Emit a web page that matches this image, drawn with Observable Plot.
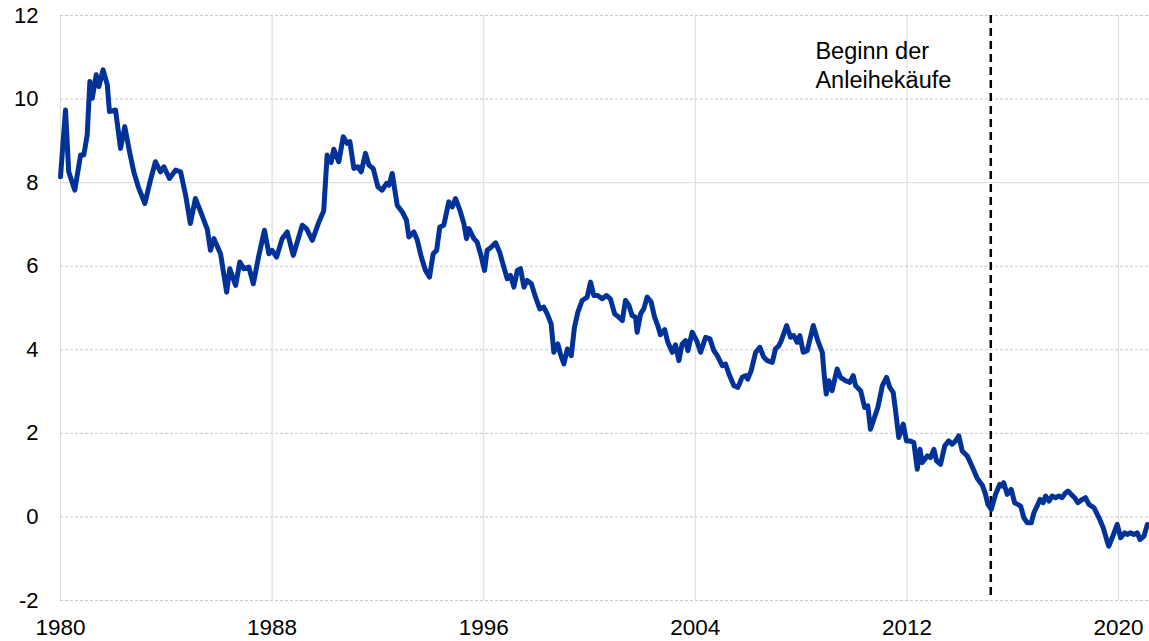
<!DOCTYPE html>
<html>
<head>
<meta charset="utf-8">
<script src="https://cdn.jsdelivr.net/npm/d3@7"></script>
<script src="https://cdn.jsdelivr.net/npm/@observablehq/plot@0.6"></script>
<style>
  html, body { margin: 0; padding: 0; background: #fff; }
  #chart { width: 1149px; height: 641px; }
</style>
</head>
<body>
<div id="chart"></div>
<script>
// Decimal years (x) and 10-year yields in % (y)
const years = [
  1980.00,1980.19,1980.31,1980.54,1980.76,1980.88,1981.01,1981.11,1981.20,1981.35,1981.45,1981.61,1981.77,1981.85,
  1982.08,1982.27,1982.43,1982.61,1982.77,1982.94,1983.19,1983.40,1983.59,1983.78,1983.91,1984.12,1984.35,1984.54,
  1984.73,1984.91,1985.10,1985.30,1985.55,1985.67,1985.80,1986.05,1986.28,1986.40,1986.62,1986.78,1986.93,1987.12,
  1987.29,1987.50,1987.71,1987.88,1988.00,1988.17,1988.38,1988.57,1988.80,1989.14,1989.30,1989.52,1989.77,1989.95,
  1990.08,1990.23,1990.33,1990.52,1990.69,1990.84,1990.94,1991.09,1991.24,1991.37,1991.53,1991.66,1991.82,1992.00,
  1992.16,1992.33,1992.42,1992.54,1992.73,1992.92,1993.08,1993.17,1993.36,1993.49,1993.64,1993.80,1993.95,1994.09,
  1994.22,1994.34,1994.49,1994.68,1994.81,1994.93,1995.10,1995.25,1995.35,1995.44,1995.63,1995.75,1995.88,1996.03,
  1996.13,1996.26,1996.45,1996.61,1996.74,1996.89,1997.01,1997.14,1997.27,1997.39,1997.52,1997.64,1997.80,1997.96,
  1998.12,1998.27,1998.40,1998.55,1998.65,1998.80,1998.90,1999.03,1999.16,1999.31,1999.43,1999.56,1999.72,1999.91,
  2000.04,2000.16,2000.31,2000.48,2000.64,2000.79,2000.95,2001.11,2001.24,2001.36,2001.49,2001.61,2001.74,2001.80,
  2001.93,2002.05,2002.18,2002.33,2002.46,2002.58,2002.68,2002.84,2002.96,2003.13,2003.25,2003.38,2003.50,2003.63,
  2003.72,2003.88,2004.05,2004.20,2004.39,2004.55,2004.70,2004.83,2005.02,2005.14,2005.27,2005.46,2005.61,2005.77,
  2005.90,2005.98,2006.11,2006.28,2006.44,2006.59,2006.72,2006.91,2007.03,2007.16,2007.25,2007.45,2007.60,2007.72,
  2007.85,2007.95,2008.08,2008.23,2008.46,2008.63,2008.80,2008.88,2008.95,2009.05,2009.17,2009.36,2009.49,2009.68,
  2009.84,2009.97,2010.06,2010.25,2010.40,2010.52,2010.62,2010.75,2010.90,2011.07,2011.23,2011.35,2011.48,2011.57,
  2011.69,2011.86,2011.98,2012.11,2012.26,2012.39,2012.49,2012.58,2012.77,2012.89,2013.02,2013.12,2013.27,2013.43,
  2013.58,2013.71,2013.84,2013.96,2014.09,2014.28,2014.47,2014.66,2014.85,2014.97,2015.06,2015.19,2015.35,2015.51,
  2015.60,2015.66,2015.79,2015.94,2016.07,2016.19,2016.30,2016.42,2016.55,2016.70,2016.80,2016.95,2017.03,2017.15,
  2017.24,2017.37,2017.49,2017.62,2017.74,2017.87,2018.00,2018.09,2018.21,2018.34,2018.46,2018.63,2018.75,2018.88,
  2019.07,2019.26,2019.42,2019.57,2019.63,2019.76,2019.95,2020.08,2020.23,2020.33,2020.45,2020.58,2020.71,2020.81,
  2020.96,2021.09,2021.16
];
const yields = [
  8.14,9.74,8.26,7.82,8.66,8.66,9.14,10.42,10.02,10.58,10.30,10.70,10.34,9.70,
  9.74,8.82,9.34,8.74,8.26,7.90,7.50,8.06,8.50,8.26,8.38,8.10,8.30,8.26,
  7.70,7.02,7.62,7.30,6.88,6.38,6.66,6.30,5.38,5.94,5.54,6.10,5.94,5.98,
  5.58,6.26,6.86,6.30,6.38,6.22,6.66,6.82,6.26,6.98,6.90,6.62,7.06,7.32,
  8.66,8.48,8.80,8.50,9.10,8.94,8.98,8.34,8.38,8.26,8.70,8.42,8.34,7.90,
  7.82,7.98,7.94,8.22,7.46,7.30,7.10,6.70,6.82,6.62,6.22,5.90,5.74,6.30,
  6.38,6.94,6.98,7.54,7.42,7.62,7.34,7.02,6.66,6.90,6.66,6.58,6.30,5.90,
  6.38,6.44,6.56,6.32,6.02,5.70,5.78,5.50,5.90,5.94,5.50,5.66,5.58,5.26,
  4.98,5.02,4.86,4.62,3.94,4.14,3.90,3.66,4.02,3.86,4.54,4.90,5.18,5.26,
  5.62,5.30,5.30,5.22,5.30,5.22,4.86,4.78,4.70,5.18,5.06,4.82,4.78,4.42,
  4.86,4.98,5.26,5.14,4.78,4.58,4.36,4.48,4.18,3.94,4.12,3.74,4.14,4.22,
  3.98,4.42,4.22,3.94,4.30,4.26,3.98,3.86,3.62,3.66,3.42,3.14,3.10,3.34,
  3.38,3.30,3.50,3.94,4.06,3.82,3.74,3.70,4.02,4.10,4.22,4.58,4.30,4.34,
  4.18,4.34,3.94,3.98,4.58,4.22,3.94,3.34,2.94,3.26,3.02,3.54,3.34,3.26,
  3.22,3.38,3.14,3.02,2.62,2.66,2.10,2.34,2.62,3.14,3.34,3.10,2.98,2.54,
  1.90,2.22,1.82,1.82,1.78,1.14,1.62,1.30,1.46,1.42,1.62,1.34,1.26,1.70,
  1.82,1.74,1.82,1.94,1.58,1.46,1.20,0.92,0.76,0.54,0.30,0.18,0.54,0.78,
  0.74,0.82,0.54,0.66,0.34,0.30,0.26,-0.02,-0.14,-0.14,0.10,0.30,0.42,0.34,
  0.50,0.38,0.50,0.46,0.50,0.46,0.58,0.62,0.54,0.46,0.34,0.42,0.46,0.30,
  0.22,-0.02,-0.26,-0.58,-0.70,-0.50,-0.18,-0.50,-0.38,-0.42,-0.38,-0.42,-0.38,-0.54,
  -0.46,-0.18,-0.20
];
const xTicks = [1980, 1988, 1996, 2004, 2012, 2020];
const yTicks = [-2, 0, 2, 4, 6, 8, 10, 12];
const xDomain = [1980, 2021.17];
const yDomain = [-2, 12];
const purchaseStart = [2015.17];
const noteText = ["Beginn der\nAnleihekäufe"];
const notePos = { t: 2008.54, v: 11.43 };

const data = years.map((t, i) => ({ t, v: yields[i] }));

const chart = Plot.plot({
  width: 1149,
  height: 641,
  marginLeft: 60,
  marginRight: 0,
  marginTop: 15,
  marginBottom: 41,
  style: { fontFamily: "'Liberation Sans', Arial, sans-serif", fontSize: "22px", background: "#fff", color: "#000" },
  x: { domain: xDomain, label: null },
  y: { domain: yDomain, label: null },
  marks: [
    Plot.ruleX(xTicks, { stroke: "#d9d9d9", strokeWidth: 1 }),
    Plot.ruleY(yTicks.filter(d => d !== 8), { stroke: "#c8c8c8", strokeWidth: 1, strokeDasharray: "3,2" }),
    Plot.ruleY([8], { stroke: "#d9d9d9", strokeWidth: 1 }),
    Plot.ruleX(purchaseStart, { stroke: "#000", strokeWidth: 2.5, strokeDasharray: "8,5" }),
    Plot.line(data, { x: "t", y: "v", stroke: "#003299", strokeWidth: 5, strokeLinejoin: "round", strokeLinecap: "round" }),
    Plot.text(noteText, { x: () => notePos.t, y: () => notePos.v, text: d => d, textAnchor: "start", lineAnchor: "top", lineHeight: 1.2, fontSize: 23.5, fill: "#000" }),
    Plot.axisX(xTicks, { tickSize: 0, tickPadding: 19, tickFormat: d => String(d), fontSize: 22.5, fill: "#000" }),
    Plot.axisY(yTicks, { tickSize: 0, tickPadding: 22, tickFormat: d => String(d), fontSize: 22, fill: "#000" })
  ]
});
document.getElementById("chart").appendChild(chart);
</script>
</body>
</html>
